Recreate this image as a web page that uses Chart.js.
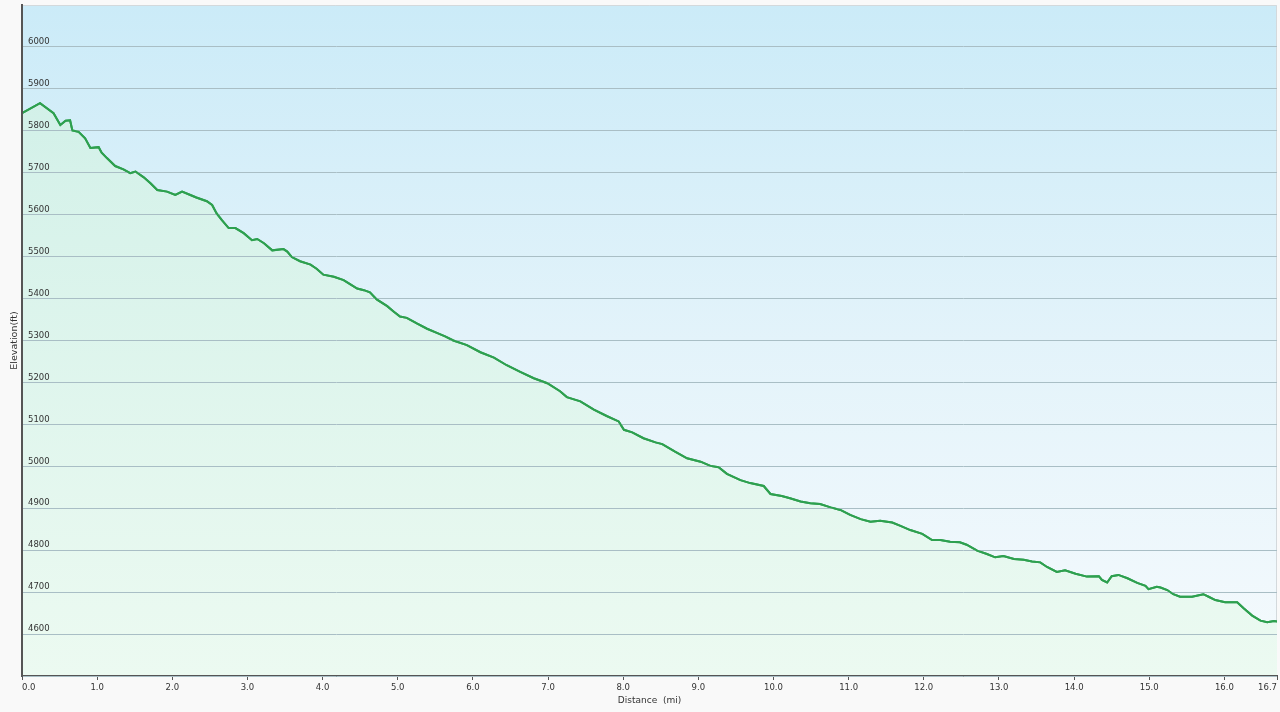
<!DOCTYPE html>
<html>
<head>
<meta charset="utf-8">
<script src="https://cdn.jsdelivr.net/npm/chart.js@4/dist/chart.umd.min.js"></script>
<style>
  html, body { margin: 0; padding: 0; background: #f9f9f9; }
  #elevationChart { display: block; }
</style>
</head>
<body>
<canvas id="elevationChart" width="1280" height="712"></canvas>
<script>
// Distance along the trail (mi)
const distanceMi = [
  0, 0.24, 0.42, 0.51, 0.58, 0.64, 0.67, 0.75, 0.84, 0.91,
  1.02, 1.06, 1.13, 1.24, 1.35, 1.44, 1.51, 1.62, 1.71, 1.80,
  1.93, 2.04, 2.13, 2.24, 2.32, 2.46, 2.53, 2.59, 2.66, 2.75,
  2.84, 2.95, 3.06, 3.13, 3.22, 3.33, 3.48, 3.53, 3.59, 3.70,
  3.84, 3.92, 4.01, 4.15, 4.28, 4.37, 4.46, 4.55, 4.63, 4.72,
  4.86, 4.94, 5.03, 5.12, 5.26, 5.39, 5.52, 5.63, 5.74, 5.92,
  6.10, 6.28, 6.45, 6.63, 6.81, 6.99, 7.16, 7.25, 7.43, 7.61,
  7.78, 7.94, 8.01, 8.12, 8.27, 8.43, 8.52, 8.69, 8.85, 9.03,
  9.16, 9.27, 9.38, 9.56, 9.69, 9.87, 9.96, 10.11, 10.22, 10.36,
  10.49, 10.62, 10.76, 10.89, 11.02, 11.16, 11.29, 11.42, 11.58, 11.69,
  11.82, 11.98, 12.11, 12.22, 12.35, 12.48, 12.57, 12.71, 12.84, 12.95,
  13.06, 13.20, 13.33, 13.44, 13.55, 13.64, 13.77, 13.88, 14.02, 14.17,
  14.33, 14.37, 14.44, 14.50, 14.59, 14.71, 14.84, 14.95, 14.99, 15.10,
  15.15, 15.24, 15.32, 15.41, 15.57, 15.72, 15.79, 15.88, 16.01, 16.17,
  16.26, 16.37, 16.48, 16.57, 16.66, 16.70
];

// Elevation (ft)
const elevationFt = [
  5842, 5866, 5842, 5814, 5824, 5825, 5801, 5798, 5782, 5759,
  5761, 5748, 5735, 5716, 5708, 5699, 5703, 5689, 5675, 5659,
  5655, 5647, 5655, 5647, 5641, 5632, 5623, 5603, 5587, 5568,
  5568, 5556, 5539, 5542, 5532, 5515, 5518, 5512, 5499, 5489,
  5481, 5471, 5457, 5452, 5444, 5434, 5424, 5420, 5415, 5398,
  5382, 5370, 5357, 5354, 5340, 5328, 5318, 5310, 5300, 5289,
  5272, 5259, 5241, 5225, 5210, 5198, 5179, 5165, 5155, 5135,
  5120, 5107, 5087, 5081, 5067, 5057, 5053, 5035, 5019, 5011,
  5001, 4998, 4982, 4967, 4960, 4953, 4934, 4929, 4924, 4916,
  4912, 4910, 4902, 4896, 4884, 4874, 4868, 4870, 4866, 4858,
  4848, 4839, 4824, 4824, 4820, 4819, 4813, 4799, 4791, 4783,
  4786, 4779, 4777, 4773, 4771, 4760, 4748, 4752, 4744, 4737,
  4738, 4729, 4723, 4738, 4741, 4733, 4722, 4715, 4707, 4713,
  4711, 4705, 4695, 4689, 4689, 4695, 4689, 4681, 4676, 4676,
  4661, 4644, 4632, 4628, 4631, 4630
];

// Axis ticks
const xTicks = [0, 1, 2, 3, 4, 5, 6, 7, 8, 9, 10, 11, 12, 13, 14, 15, 16, 16.7];
const yTickLabels = [4600, 4700, 4800, 4900, 5000, 5100, 5200, 5300, 5400, 5500, 5600, 5700, 5800, 5900, 6000];
const yMin = 4500;
const yMax = 6100;

const FONT = "'DejaVu Sans', Verdana, sans-serif";

const points = distanceMi.map((d, i) => ({ x: d, y: elevationFt[i] }));

// plot area background + light top/right border
const plotBackground = {
  id: "plotBackground",
  beforeDraw(chart) {
    const { ctx, chartArea: a } = chart;
    if (!a) return;
    const g = ctx.createLinearGradient(0, a.top, 0, a.bottom);
    g.addColorStop(0, "#cbebf8");
    g.addColorStop(0.5, "#e3f3fa");
    g.addColorStop(1, "#f5fafd");
    ctx.save();
    ctx.fillStyle = g;
    ctx.fillRect(a.left, a.top, a.right - a.left, a.bottom - a.top);
    ctx.strokeStyle = "#d3d9dc";
    ctx.lineWidth = 1;
    ctx.beginPath();
    ctx.moveTo(a.left, a.top + 0.5);
    ctx.lineTo(a.right - 0.5, a.top + 0.5);
    ctx.lineTo(a.right - 0.5, a.bottom);
    ctx.stroke();
    ctx.restore();
  }
};

// grid is drawn above the fill, so stroke the profile line again on top of it
const lineOnTop = {
  id: "lineOnTop",
  afterDraw(chart) {
    const meta = chart.getDatasetMeta(0);
    const a = chart.chartArea;
    if (!meta || !meta.dataset || !a) return;
    const ctx = chart.ctx;
    ctx.save();
    ctx.beginPath();
    ctx.rect(a.left + 1, a.top, a.right - a.left - 1, a.bottom - a.top - 1);
    ctx.clip();
    meta.dataset.draw(ctx, a);
    ctx.restore();
  }
};

function fillGradient(context) {
  const a = context.chart.chartArea;
  if (!a) return "#e6f8ee";
  const g = context.chart.ctx.createLinearGradient(0, a.top, 0, a.bottom);
  g.addColorStop(0, "#cdeee6");
  g.addColorStop(0.25, "#d6f2ea");
  g.addColorStop(1, "#ecfaf1");
  return g;
}

const isLabelled = (value) => yTickLabels.includes(Math.round(value));

new Chart(document.getElementById("elevationChart").getContext("2d"), {
  type: "line",
  data: {
    datasets: [{
      data: points,
      borderColor: "#2ea04f",
      borderWidth: 2,
      backgroundColor: fillGradient,
      fill: "start",
      pointRadius: 0,
      tension: 0
    }]
  },
  options: {
    responsive: false,
    animation: false,
    devicePixelRatio: 1,
    layout: { padding: { top: 5, right: 3, left: 0, bottom: 0 } },
    plugins: {
      legend: { display: false },
      tooltip: { enabled: false }
    },
    scales: {
      x: {
        type: "linear",
        min: 0,
        max: 16.7,
        afterBuildTicks: (scale) => {
          scale.ticks = xTicks.map((v) => ({ value: v }));
        },
        afterFit: (scale) => {
          scale.height = 36;
          scale.paddingLeft = 0;
          scale.paddingRight = 0;
        },
        border: { color: "#555555", width: 2, z: 1 },
        grid: {
          drawOnChartArea: false,
          drawTicks: true,
          tickLength: 4,
          color: "#555555"
        },
        ticks: {
          align: "inner",
          maxRotation: 0,
          autoSkip: false,
          padding: 3,
          color: "#333333",
          font: { family: FONT, size: 8.5 },
          callback: (value) => Number(value).toFixed(1)
        },
        title: {
          display: true,
          text: "Distance  (mi)",
          color: "#333333",
          font: { family: FONT, size: 9 },
          padding: { top: 0, bottom: 6 }
        }
      },
      y: {
        min: yMin,
        max: yMax,
        afterFit: (scale) => {
          scale.width = 22;
          scale.paddingTop = 0;
          scale.paddingBottom = 0;
        },
        border: { color: "#555555", width: 2, z: 1 },
        grid: {
          z: 1,
          drawTicks: false,
          color: (ctx) => (ctx.tick && Math.round(ctx.tick.value) === yMax ? "rgba(0,0,0,0)" : "#a9bec5"),
          lineWidth: 1
        },
        ticks: {
          z: 1,
          stepSize: 100,
          mirror: true,
          padding: 6,
          labelOffset: -5,
          color: "#333333",
          font: { family: FONT, size: 8.5 },
          callback: (value) => (isLabelled(value) ? String(Math.round(value)) : "")
        },
        title: {
          display: true,
          text: "Elevation(ft)",
          color: "#333333",
          font: { family: FONT, size: 9.5 },
          padding: { top: 9, bottom: 0 }
        }
      }
    }
  },
  plugins: [plotBackground, lineOnTop]
});
</script>
</body>
</html>
